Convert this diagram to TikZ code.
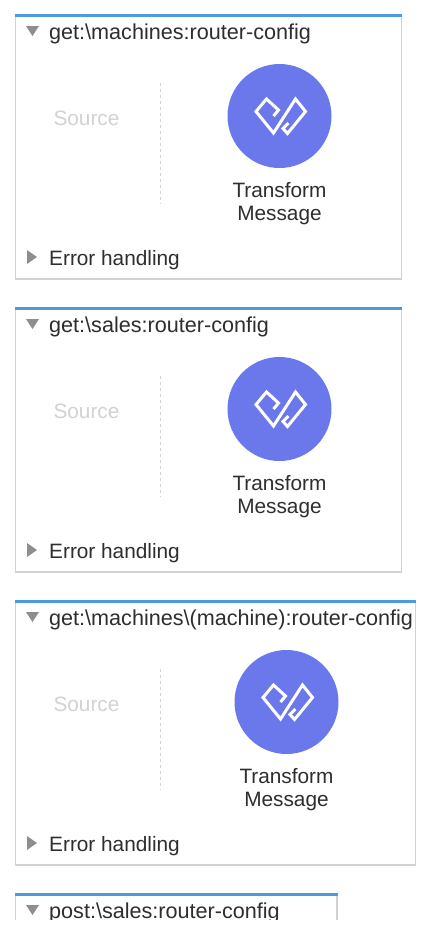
\documentclass[tikz,border=0pt]{standalone}
\usepackage{fontspec}
\setmainfont{Liberation Sans}
\definecolor{barblue}{HTML}{4C9BE0}
\definecolor{edgegrey}{HTML}{CFD3D5}
\definecolor{discblue}{HTML}{6A78EC}
\definecolor{inktext}{HTML}{2E2E2E}
\definecolor{tri}{HTML}{8E8E8E}
\definecolor{srcgrey}{HTML}{D2D2D2}
\tikzset{
  x=1pt,y=-1pt,
  panel/.style={draw=edgegrey,line width=1.3pt,fill=white},
  topbar/.style={draw=barblue,line width=3pt},
  title/.style={anchor=base west,inner sep=0,text=inktext,font=\fontsize{21.6}{24}\selectfont},
  errlabel/.style={anchor=base west,inner sep=0,text=inktext,font=\fontsize{20.8}{24}\selectfont},
  srclabel/.style={anchor=center,inner sep=0,text=srcgrey,font=\fontsize{20.8}{24}\selectfont},
  caption/.style={anchor=center,inner sep=0,align=center,text=inktext,font=\fontsize{20.8}{23.5}\selectfont},
  disc/.style={circle,fill=discblue,draw=none,minimum size=104pt,inner sep=0},
  divider/.style={draw=edgegrey,line width=1.6pt,dash pattern=on 3pt off 3pt},
  glyph/.style={draw=white,line width=3pt,line join=miter},
  tribox/.style={fill=tri,draw=none}
}
% #1 prefix, #2 top y, #3 right x, #4 circle x, #5 title
\newcommand{\flowpanel}[5]{%
  \begin{scope}[yshift=-#2pt]
  \path[panel] (15.5,0) -- (#3,0) -- (#3,264) -- (15.5,264) -- cycle;
  \draw[topbar] (15,0) -- (#3+0.5,0);
  \fill[tribox] (26,11) -- (39,11) -- (32.5,21) -- cycle;
  \node[title] (#1title) at (49,24) {#5};
  \node[srclabel] (#1src) at (86.5,103) {Source};
  \coordinate (#1da) at (160.5,68);
  \coordinate (#1db) at (160.5,189);
  \draw[divider] (#1da) -- (#1db);
  \node[disc] (#1disc) at (#4,101) {};
  \begin{scope}[shift={(#1disc.center)}]
    \draw[glyph] (-6,0) -- (-1,-6) -- (-13,-17) -- (-23.5,-4.5) -- (-6,17) -- (16,-17) -- (26,-4.5) -- (8,17.5) -- (3.5,12.5) -- (9,7);
  \end{scope}
  \node[caption] (#1cap) at (#4,188.5) {Transform\\Message};
  \fill[tribox] (27,235) -- (37,242) -- (27,249) -- cycle;
  \node[errlabel] (#1err) at (49,250) {Error handling};
  \end{scope}}
\begin{document}
\begin{tikzpicture}
\useasboundingbox (0,0) rectangle (426,930);
\fill[white] (0,0) rectangle (426,930);
\flowpanel{a}{15}{401.5}{279.5}{get:\textbackslash machines:router-config}
\flowpanel{b}{308}{401.5}{279.5}{get:\textbackslash sales:router-config}
\flowpanel{c}{601}{415.5}{286.5}{get:\textbackslash machines\textbackslash(machine):router-config}
\begin{scope}
  \clip (0,880) rectangle (426,919);
  \path[panel] (15.5,894) -- (337,894) -- (337,940) -- (15.5,940) -- cycle;
  \draw[topbar] (15,894) -- (337.5,894);
  \fill[tribox] (26,905) -- (39,905) -- (32.5,915) -- cycle;
  \node[title] (dtitle) at (49,918) {post:\textbackslash sales:router-config};
\end{scope}
\end{tikzpicture}
\end{document}
